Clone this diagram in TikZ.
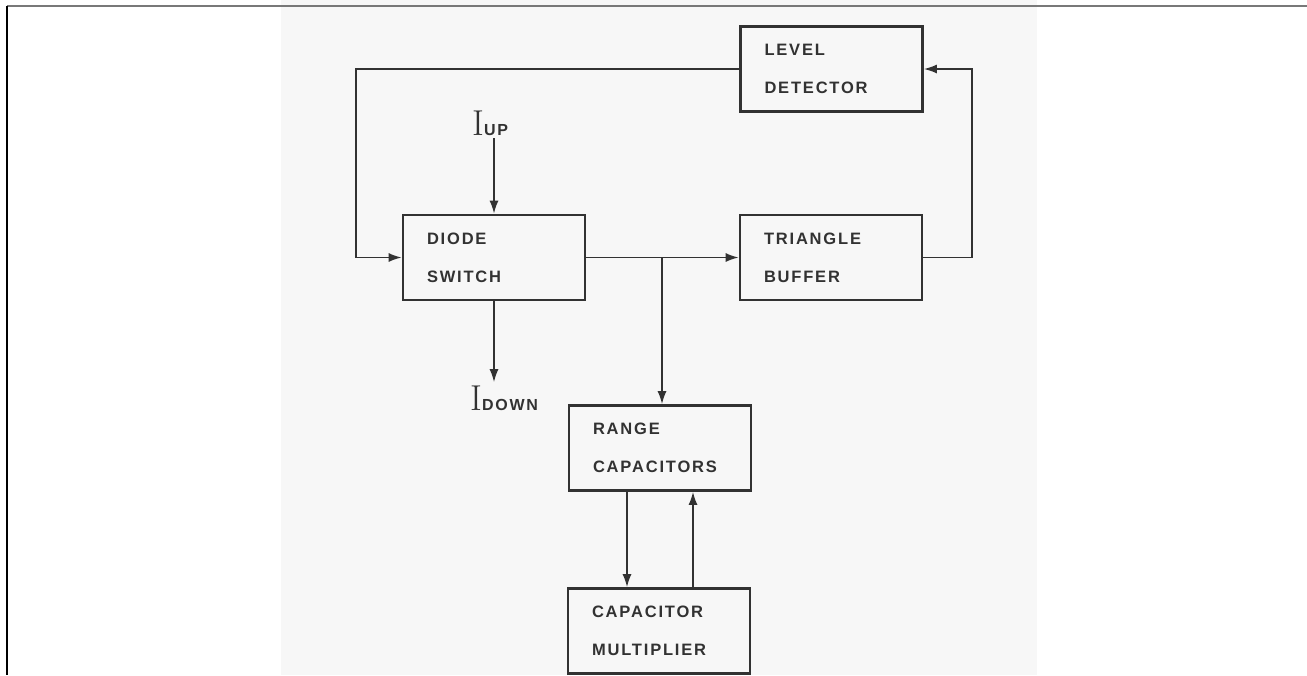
\documentclass[tikz,border=0pt]{standalone}
\usepackage{fontspec}
\usepackage{tikz}
\usetikzlibrary{arrows.meta}
\newfontfamily\handfont{Liberation Sans}[LetterSpace=11]
\definecolor{ink}{RGB}{50, 50, 50}
\definecolor{paper}{RGB}{247, 247, 247}
\definecolor{rule}{RGB}{120, 120, 120}
\newcommand{\bigI}{{\rmfamily\mdseries\fontsize{36}{36}\selectfont I}}

\begin{document}
\begin{tikzpicture}[x=1pt, y=-1pt,
    block/.style={draw=ink, line width=2.6, rectangle, minimum width=182, minimum height=85,
      text width=134, inner xsep=24, align=left, text=ink,
      font=\handfont\bfseries\fontsize{16.5}{38}\selectfont},
    flow/.style={draw=ink, line width=1.8, -{Latex[length=13, width=9]}},
    current/.style={text=ink, inner sep=3, font=\handfont\bfseries\fontsize{16}{16}\selectfont}]
  \useasboundingbox (0, 0) rectangle (1307, 675);

  % scanned page and frame
  \fill[paper] (281, 0) rectangle (1037, 675);
  \draw[rule, line width=1.5] (7, 6) -- (1307, 6);
  \draw[black, line width=1.5] (7, 6) -- (7, 675);

  % blocks
  \node[block] (level) at (831.5, 69) {LEVEL\\DETECTOR};
  \node[block] (diode) at (494, 257.5) {DIODE\\SWITCH};
  \node[block] (buffer) at (831, 257.5) {TRIANGLE\\BUFFER};
  \node[block] (range) at (660, 448) {RANGE\\CAPACITORS};
  \node[block] (mult) at (659, 631) {CAPACITOR\\MULTIPLIER};

  % currents
  \node[current, anchor=base west] (iup) at (469, 135) {\bigI UP};
  \node[current, anchor=base west] (idown) at (467, 410) {\bigI DOWN};

  % connections
  \coordinate (tap) at (662, 257.5);
  \coordinate (back) at (356, 69);
  \coordinate (loop) at (972, 257.5);

  \draw[flow] (iup.south -| diode.north) -- (diode.north);
  \draw[flow] (diode.south) -- (idown.north -| diode.south);
  \draw[flow] (diode.east) -- (buffer.west);
  \draw[flow] (tap) -- (tap |- range.north);
  \draw[flow] (buffer.east) -- (loop) |- (level.east);
  \draw[flow] (level.west) -- (back) |- (diode.west);
  \draw[flow] ([xshift=-33]range.south) -- ([xshift=-32]mult.north);
  \draw[flow] ([xshift=34]mult.north) -- ([xshift=33]range.south);
\end{tikzpicture}
\end{document}
